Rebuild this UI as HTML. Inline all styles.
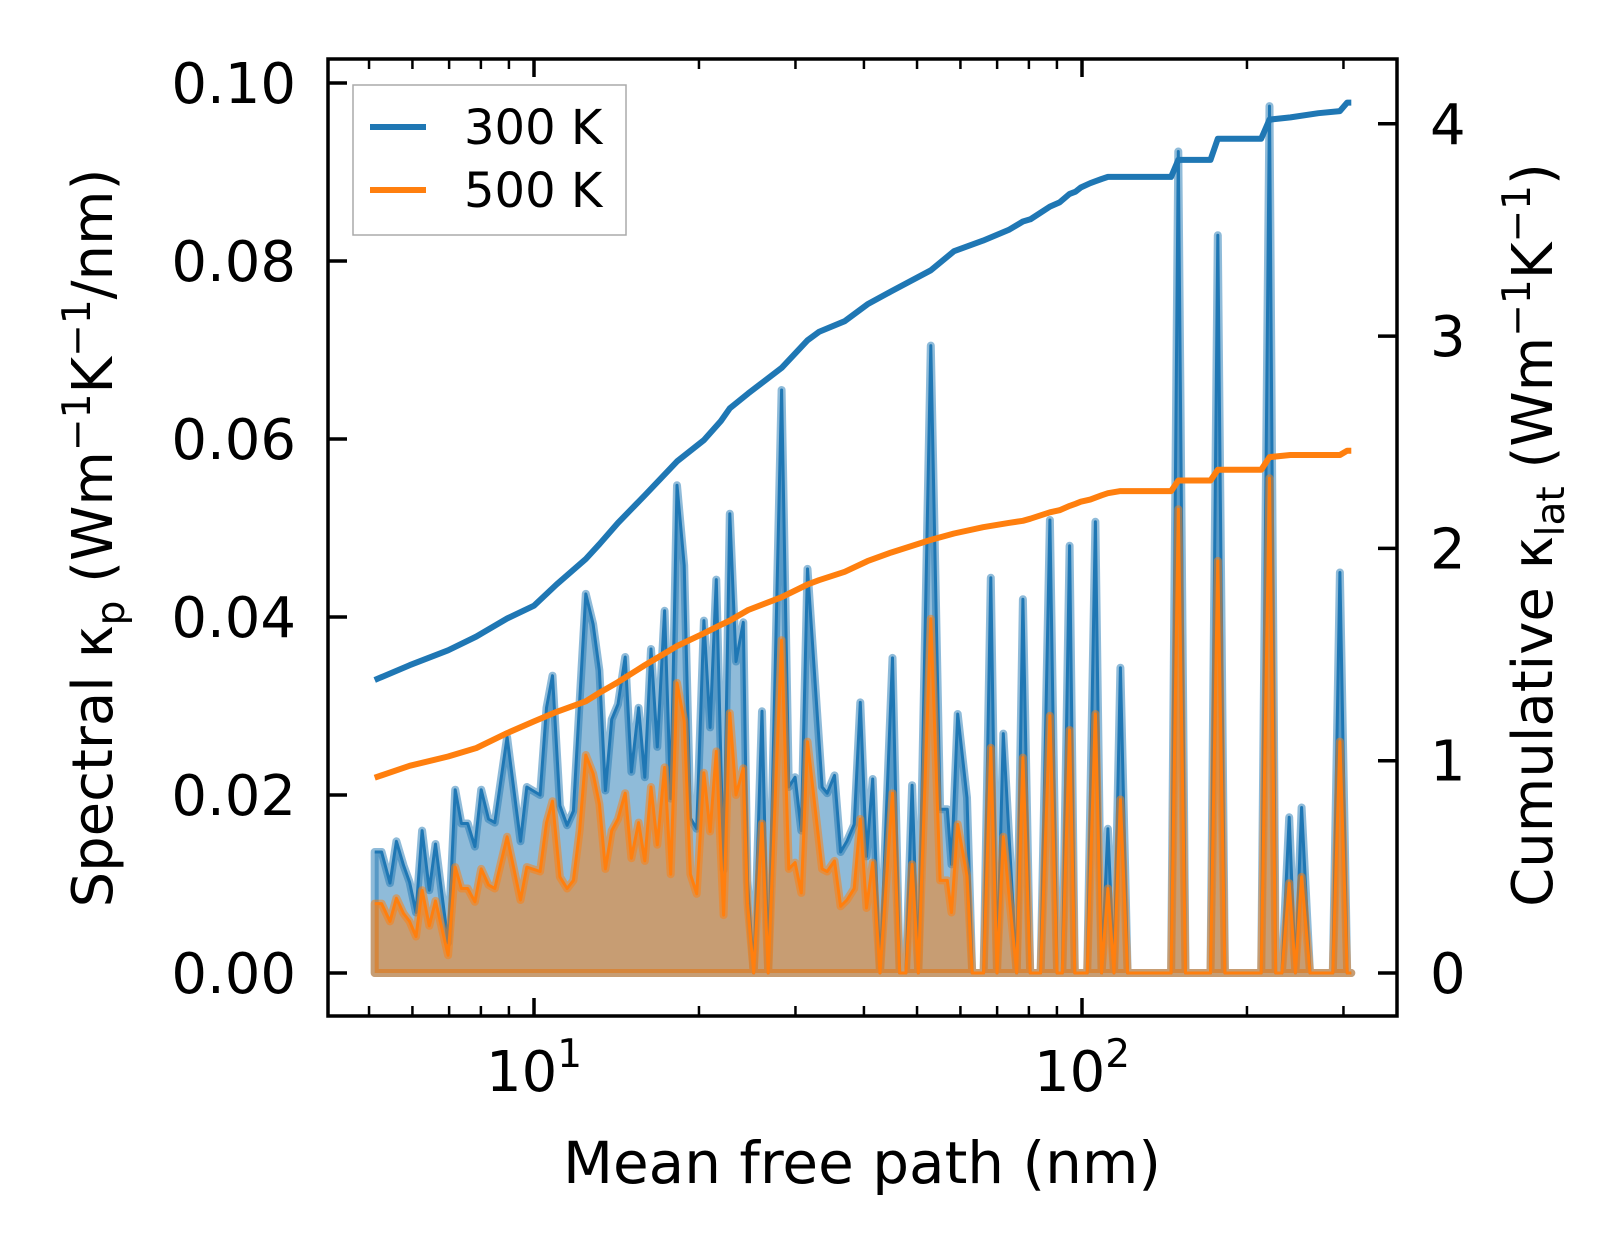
<!DOCTYPE html>
<html><head><meta charset="utf-8">
<style>
html,body{margin:0;padding:0;background:#fff;}
svg{display:block;font-family:"DejaVu Sans","Liberation Sans",sans-serif;}
</style></head>
<body>
<svg id="chart" width="1623" height="1254" viewBox="0 0 1623 1254" xmlns="http://www.w3.org/2000/svg">
<rect width="1623" height="1254" fill="#fff"/>
<g id="plot"></g>
<g id="axes"></g>
</svg>
<script>
// ---- data ----
const mfp = [5.12,5.27,5.46,5.61,5.78,5.93,6.09,6.25,6.44,6.61,6.97,7.18,7.37,7.57,7.80,8.01,8.26,8.48,8.93,9.45,9.70,10.26,10.54,10.81,11.15,11.49,11.80,12.11,12.43,12.82,13.16,13.50,13.86,14.23,14.67,15.06,15.52,15.93,16.35,16.79,17.31,17.76,18.24,18.80,19.29,19.81,20.42,20.96,21.51,22.18,22.77,23.37,24.10,24.52,25.17,26.06,26.75,28.30,29.17,29.95,30.74,31.56,33.55,34.28,35.34,36.27,37.24,38.39,39.40,40.44,41.51,42.80,45.10,46.49,47.72,48.98,50.27,52.97,55.08,56.79,57.78,59.32,61.69,63.04,66.13,68.17,69.98,71.83,76.01,78.02,80.44,84.02,87.38,90.08,92.07,94.91,97.01,102.2,105.8,108.6,111.5,114.4,117.5,121.1,145.4,149.9,154.5,171.6,176.9,182.3,212.3,219.9,225.7,231.6,238.8,245.1,251.6,260.6,286.8,295.6,304.8,310.1];
const spec300 = [0.0136,0.0136,0.0101,0.0148,0.0121,0.0102,0.0068,0.0160,0.0093,0.0145,0.0034,0.0206,0.0168,0.0168,0.0142,0.0206,0.0173,0.0169,0.0265,0.0148,0.0209,0.0200,0.0298,0.0334,0.0188,0.0166,0.0182,0.0304,0.0426,0.0392,0.0340,0.0205,0.0285,0.0302,0.0355,0.0226,0.0298,0.0220,0.0364,0.0254,0.0407,0.0196,0.0548,0.0458,0.0174,0.0162,0.0396,0.0276,0.0442,0.0116,0.0516,0.0350,0.0394,0.0104,0,0.0294,0,0.0655,0.0209,0.0220,0.0160,0.0454,0.0209,0.0202,0.0222,0.0136,0.0148,0.0167,0.0304,0.0131,0.0218,0,0.0354,0,0,0.0211,0,0.0705,0.0184,0.0184,0.0122,0.0291,0.0197,0,0,0.0444,0,0.0269,0,0.0420,0,0,0.0509,0,0,0.0480,0,0,0.0507,0,0.0162,0,0.0343,0,0,0.0923,0,0,0.0829,0,0,0.0974,0,0,0.0175,0,0.0186,0,0,0.0450,0,0];
const spec500 = [0.0078,0.0078,0.0058,0.0084,0.0067,0.0058,0.0041,0.0093,0.0053,0.0081,0.0020,0.0119,0.0095,0.0095,0.0080,0.0117,0.0099,0.0095,0.0153,0.0082,0.0119,0.0114,0.0169,0.0193,0.0108,0.0095,0.0104,0.0160,0.0245,0.0224,0.0190,0.0117,0.0160,0.0173,0.0202,0.0129,0.0169,0.0126,0.0209,0.0144,0.0231,0.0111,0.0326,0.0283,0.0111,0.0089,0.0225,0.0159,0.0249,0.0065,0.0292,0.0200,0.0230,0.0078,0,0.0168,0,0.0374,0.0117,0.0124,0.0090,0.0260,0.0117,0.0114,0.0126,0.0075,0.0082,0.0095,0.0173,0.0073,0.0124,0,0.0202,0,0,0.0122,0,0.0398,0.0104,0.0104,0.0068,0.0167,0.0109,0,0,0.0253,0,0.0153,0,0.0242,0,0,0.0289,0,0,0.0273,0,0,0.0291,0,0.0095,0,0.0195,0,0,0.0521,0,0,0.0463,0,0,0.0556,0,0,0.0101,0,0.0108,0,0,0.0260,0,0];
const cumMfp = [5.12,5.93,6.97,7.85,8.93,10.0,10.99,12.43,13.16,14.23,15.93,18.24,20.42,21.93,22.77,24.60,28.30,31.56,33.10,36.90,40.60,44.80,52.97,58.40,66.0,73.5,78.0,80.5,87.38,91.0,94.91,97.3,99.5,103.5,106.0,108.6,111.5,117.5,145.4,149.9,171.6,176.9,212.3,219.9,240.0,270.0,295.6,304.8,310.1];
const cum300 = [1.38,1.45,1.52,1.585,1.67,1.73,1.83,1.95,2.02,2.12,2.25,2.41,2.51,2.60,2.66,2.73,2.85,2.98,3.02,3.07,3.15,3.21,3.31,3.40,3.45,3.50,3.54,3.55,3.61,3.63,3.67,3.68,3.70,3.72,3.73,3.74,3.75,3.75,3.75,3.83,3.83,3.93,3.93,4.02,4.03,4.05,4.06,4.10,4.10];
const cum500 = [0.92,0.976,1.02,1.06,1.13,1.185,1.23,1.28,1.32,1.37,1.45,1.54,1.60,1.64,1.66,1.71,1.77,1.83,1.85,1.89,1.94,1.98,2.04,2.07,2.10,2.12,2.13,2.14,2.17,2.18,2.20,2.21,2.22,2.23,2.24,2.25,2.26,2.27,2.27,2.32,2.32,2.37,2.37,2.43,2.44,2.44,2.44,2.46,2.46];
const leftTicks = [0, 0.02, 0.04, 0.06, 0.08, 0.10];
const leftTickLabels = ["0.00","0.02","0.04","0.06","0.08","0.10"];
const rightTicks = [0,1,2,3,4];
const xMajor = [10, 100];
const xMinor = [5,6,7,8,9,20,30,40,50,60,70,80,90,200,300];

// ---- scales ----
const L=328, R=1397, T=59, B=1016;
const X = m => 534 + 548*(Math.log10(m)-1);
const YL = v => 973 - v*8900;
const YR = c => 973 - c*212.3;
const NS='http://www.w3.org/2000/svg';
function mk(tag, attrs, parent){const e=document.createElementNS(NS,tag);for(const k in attrs)e.setAttribute(k,attrs[k]);parent.appendChild(e);return e;}
const plot=document.getElementById('plot');
const axes=document.getElementById('axes');

function spectral(vals, color, name){
  const pts = mfp.map((m,i)=>X(m).toFixed(1)+','+YL(vals[i]).toFixed(1));
  const area = 'M'+X(mfp[0]).toFixed(1)+','+YL(0)+' L'+pts.join(' L')+' L'+X(mfp[mfp.length-1]).toFixed(1)+','+YL(0)+' Z';
  const f = mk('path',{d:area,fill:color,'fill-opacity':0.5,stroke:color,'stroke-opacity':0.5,'stroke-width':8,'stroke-linejoin':'round'},plot);
  
  
  const l = mk('polyline',{points:pts.join(' '),fill:'none',stroke:color,'stroke-width':3,'stroke-linejoin':'round'},plot);
  
  
}
spectral(spec300,'#1f77b4','spectral-300k');
spectral(spec500,'#ff7f0e','spectral-500k');

function cum(vals,color,name){
  const pts = cumMfp.map((m,i)=>X(m).toFixed(1)+','+YR(vals[i]).toFixed(1));
  const l = mk('polyline',{points:pts.join(' '),fill:'none',stroke:color,'stroke-width':6,'stroke-linejoin':'round'},plot);
  
  
}
cum(cum300,'#1f77b4','cumulative-300k');
cum(cum500,'#ff7f0e','cumulative-500k');

// frame
const fr = mk('rect',{x:L,y:T,width:R-L,height:B-T,fill:'none',stroke:'#000','stroke-width':3.5},axes);



// left ticks
leftTicks.forEach((v,i)=>{
  const y=YL(v);
  const t=mk('line',{x1:L,x2:L+19,y1:y,y2:y,stroke:'#000','stroke-width':3.5},axes);
  
  
  const tx=mk('text',{x:296,y:y+20,'text-anchor':'end','font-size':56,fill:'#000'},axes);
  tx.textContent=leftTickLabels[i];
  
  
});
// right ticks
rightTicks.forEach(c=>{
  const y=YR(c);
  const t=mk('line',{x1:R-19,x2:R,y1:y,y2:y,stroke:'#000','stroke-width':3.5},axes);
  
  
  const tx=mk('text',{x:1430,y:y+20,'font-size':56,fill:'#000'},axes);
  tx.textContent=String(c);
  
  
});
// x ticks
xMajor.forEach((m,i)=>{
  const x=X(m);
  [[B,B-18],[T,T+18]].forEach(p=>{
    const t=mk('line',{x1:x,x2:x,y1:p[0],y2:p[1],stroke:'#000','stroke-width':3.5},axes);
    
    
  });
  const tx=mk('text',{x:x,y:1091,'text-anchor':'middle','font-size':56,fill:'#000'},axes);
  
  
  const a=document.createElementNS(NS,'tspan');a.textContent='10';tx.appendChild(a);
  const b=document.createElementNS(NS,'tspan');b.textContent=String(i+1);b.setAttribute('font-size',39);b.setAttribute('dy',-24);tx.appendChild(b);
});
xMinor.forEach(m=>{
  const x=X(m);
  [[B,B-10],[T,T+10]].forEach(p=>{
    const t=mk('line',{x1:x,x2:x,y1:p[0],y2:p[1],stroke:'#000','stroke-width':2.5},axes);
    
    
  });
});
</script>
<svg style="position:absolute;left:0;top:0" width="1623" height="1254">
  <text x="862" y="1183" text-anchor="middle" font-size="58" font-family="DejaVu Sans, Liberation Sans, sans-serif">Mean free path (nm)</text>
  <text transform="translate(112,538) rotate(-90)" text-anchor="middle" font-size="56" font-family="DejaVu Sans, Liberation Sans, sans-serif">Spectral κ<tspan font-size="39" dy="12">p</tspan><tspan dy="-12"> (Wm</tspan><tspan font-size="39" dy="-22">−1</tspan><tspan dy="22">K</tspan><tspan font-size="39" dy="-22">−1</tspan><tspan dy="22">/nm)</tspan></text>
  <text transform="translate(1552,535) rotate(-90)" text-anchor="middle" font-size="56" font-family="DejaVu Sans, Liberation Sans, sans-serif">Cumulative κ<tspan font-size="39" dy="12">lat</tspan><tspan dy="-12"> (Wm</tspan><tspan font-size="39" dy="-22">−1</tspan><tspan dy="22">K</tspan><tspan font-size="39" dy="-22">−1</tspan><tspan dy="22">)</tspan></text>
  <g>
    <rect x="353" y="85" width="273" height="150" fill="#fff" fill-opacity="0.8" stroke="#aaa" stroke-width="1.5"/>
    <line x1="370" x2="426" y1="127" y2="127" stroke="#1f77b4" stroke-width="6"/>
    <text x="464" y="144" font-size="48" font-family="DejaVu Sans, Liberation Sans, sans-serif">300 K</text>
    <line x1="370" x2="426" y1="190" y2="190" stroke="#ff7f0e" stroke-width="6"/>
    <text x="464" y="207" font-size="48" font-family="DejaVu Sans, Liberation Sans, sans-serif">500 K</text>
  </g>
</svg>
</body></html>
